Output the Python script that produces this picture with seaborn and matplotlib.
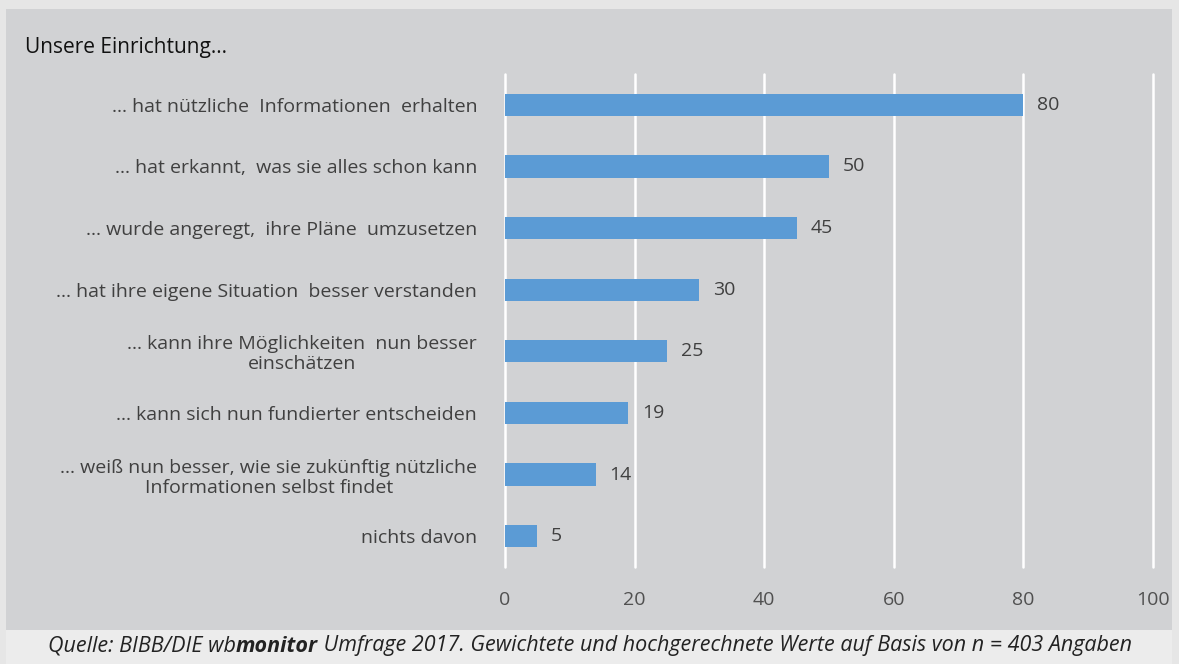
import matplotlib
matplotlib.use("Agg")
import matplotlib.pyplot as plt
import seaborn as sns
import pandas as pd
from matplotlib.patches import Rectangle

categories = [
    "... hat nützliche  Informationen  erhalten",
    "... hat erkannt,  was sie alles schon kann",
    "... wurde angeregt,  ihre Pläne  umzusetzen",
    "... hat ihre eigene Situation  besser verstanden",
    "... kann ihre Möglichkeiten  nun besser\neinschätzen",
    "... kann sich nun fundierter entscheiden",
    "... weiß nun besser, wie sie zukünftig nützliche\nInformationen selbst findet",
    "nichts davon",
]
values = [80, 50, 45, 30, 25, 19, 14, 5]
xticks = [0, 20, 40, 60, 80, 100]

sns.set_theme(style="white")
plt.rcParams["font.family"] = ["Open Sans", "DejaVu Sans"]

fig = plt.figure(figsize=(11.79, 6.64), dpi=100)
fig.patch.set_facecolor("#e6e6e6")
W, H = 1179, 664
# main panel
fig.patches.append(Rectangle((6 / W, 1 - 630 / H), (1172 - 6) / W, (630 - 9) / H,
                             transform=fig.transFigure, facecolor="#d1d2d4",
                             edgecolor="none", zorder=-2))
fig.patches.append(Rectangle((6 / W, 0), (1172 - 6) / W, (664 - 630) / H,
                             transform=fig.transFigure, facecolor="#ececec",
                             edgecolor="none", zorder=-2))

ax = fig.add_axes([505 / W, 1 - 567 / H, (1153 - 505) / W, (567 - 74) / H])
ax.set_zorder(2)
ax.set_facecolor("none")

df = pd.DataFrame({"cat": categories, "val": values})
sns.barplot(data=df, x="val", y="cat", orient="h", color="#5b9bd5",
            saturation=1, width=0.36, linewidth=0, ax=ax, zorder=3)

ax.set_xlim(0, 100)
ax.set_ylim(7.5, -0.5)
ax.set_xticks(xticks)
ax.set_xticklabels([str(t) for t in xticks])
ax.grid(axis="x", color="white", linewidth=1.8, zorder=1)
ax.grid(axis="y", visible=False)
for gl in ax.get_xgridlines():
    gl.set_clip_on(False)
ax.set_axisbelow(True)
for s in ax.spines.values():
    s.set_visible(False)
ax.set_xlabel("")
ax.set_ylabel("")
ax.tick_params(axis="x", length=8, color="white", width=1.8, pad=9,
               labelsize=14, labelcolor="#505050")
ax.tick_params(axis="y", length=0, pad=20, labelsize=14, labelcolor="#404040")
for lbl in ax.get_yticklabels():
    lbl.set_multialignment("center")
    lbl.set_linespacing(1.15)

for i, v in enumerate(values):
    ax.text(v + 2.1, i, str(v), va="center", ha="left", fontsize=14,
            color="#404040", zorder=4)

fig.text(25 / W, 1 - 47 / H, "Unsere Einrichtung...", fontsize=15,
         color="#111111", va="center", ha="left")

# footer with bold "monitor"
renderer = fig.canvas.get_renderer()
x0 = 48 / W
yf = 1 - 646 / H
parts = [("Quelle: BIBB/DIE wb", "normal"), ("monitor", "bold"),
         (" Umfrage 2017. Gewichtete und hochgerechnete Werte auf Basis von n = 403 Angaben", "normal")]
for txt, wt in parts:
    t = fig.text(x0, yf, txt, fontsize=15.5, style="italic", fontweight=wt,
                 color="#222222", va="center", ha="left")
    bb = t.get_window_extent(renderer=renderer)
    x0 += bb.width / W

fig.savefig("out.png", dpi=100, facecolor=fig.get_facecolor())
